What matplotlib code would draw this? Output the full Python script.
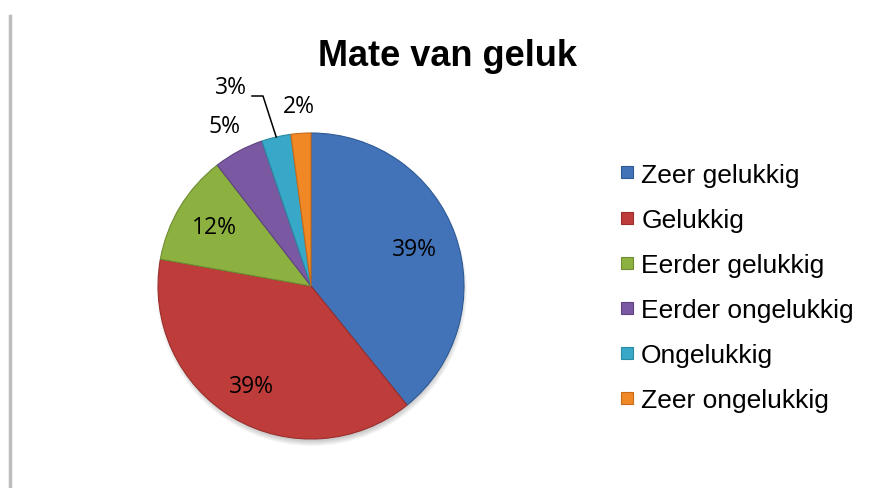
import matplotlib.pyplot as plt
import numpy as np
from matplotlib.lines import Line2D

categories = ["Zeer gelukkig", "Gelukkig", "Eerder gelukkig",
              "Eerder ongelukkig", "Ongelukkig", "Zeer ongelukkig"]
shares = [39.2, 38.6, 11.7, 5.3, 3.1, 2.1]

colors = ["#4272B8", "#BE3D3B", "#8DB140", "#7B59A2", "#37A8C8", "#F08825"]
edges = ["#2E5A94", "#9A2E2C", "#6E8C32", "#5E4380", "#2A8AA3", "#C86A18"]

plt.rcParams["font.family"] = ["Liberation Sans", "DejaVu Sans"]

W, H = 870, 489
fig = plt.figure(figsize=(8.7, 4.89), dpi=100)
ax = fig.add_axes([0.0, 0.0, 1.0, 1.0])


def Y(y):
    # pixel row from top -> data y
    return H - y


cx, cy, r = 311, Y(287), 153

# soft shadow under the pie
for k in range(6):
    sh = plt.Circle((cx + 1, cy - 5), r + 2 - k, color="#000000", alpha=0.035, lw=0)
    ax.add_patch(sh)

wedges, _ = ax.pie(shares, colors=colors, startangle=90, counterclock=False,
                   radius=r, center=(cx, cy), frame=True)
ax.set_xlim(0, W)
ax.set_ylim(0, H)
ax.set_aspect("equal")
ax.axis("off")

for w, e in zip(wedges, edges):
    w.set_edgecolor(e)
    w.set_linewidth(0.8)

# pie labels: inside for big slices, outside for small ones
radii = [0.72, 0.76, 0.74, 1.19, 1.30, 1.18]
for w, s, f in zip(wedges, shares, radii):
    lab = f"{round(s):.0f}%"
    ang = np.deg2rad((w.theta1 + w.theta2) / 2)
    x = cx + f * r * np.cos(ang)
    y = cy + f * r * np.sin(ang)
    if f == 1.30:
        x, y = 231, Y(88)
        ex = cx + r * np.cos(ang)
        ey = cy + r * np.sin(ang)
        ax.plot([252, 263, ex], [Y(97), Y(97), ey], color="black", lw=1.1)
    ax.text(x, y, lab, fontsize=16.5, ha="center", va="center",
            family=["Open Sans", "DejaVu Sans"])

ax.text(448, Y(57), "Mate van geluk", fontsize=26, fontweight="bold",
        ha="center", va="center")

handles = [Line2D([0], [0], marker="s", linestyle="none", markersize=9,
                  markerfacecolor=c, markeredgecolor=e, markeredgewidth=0.8)
           for c, e in zip(colors, edges)]
fig.legend(handles, categories, loc="center left", bbox_to_anchor=(0.70, 0.41),
           frameon=False, fontsize=19, labelspacing=0.80, handletextpad=0.22,
           handlelength=0.6, borderaxespad=0)

# left border line of the chart frame
fig.add_artist(Line2D([0.012, 0.012], [0.0, 0.965], color="#BDBDBD", lw=2.5,
                      transform=fig.transFigure))

fig.savefig("out.png", dpi=100)
